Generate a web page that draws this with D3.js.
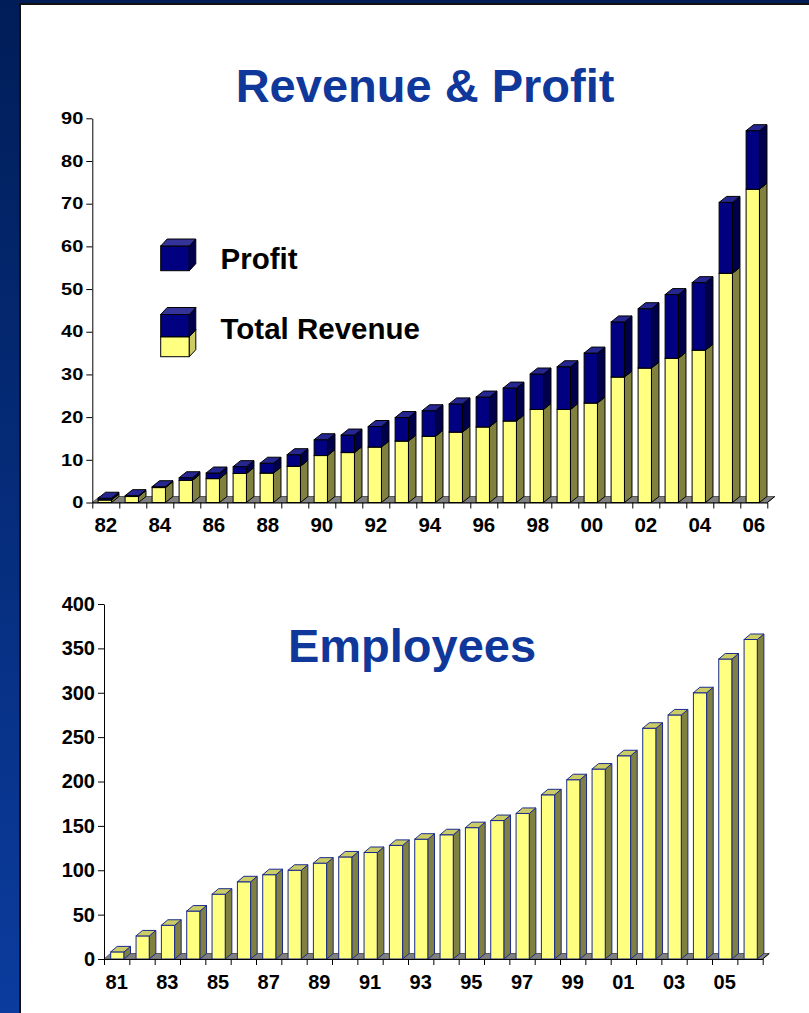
<!DOCTYPE html>
<html><head><meta charset="utf-8">
<script src="https://cdn.jsdelivr.net/npm/d3@7"></script>
<style>
body{margin:0;background:#fff}
svg{display:block}
text{font-family:Arial,"Liberation Sans",sans-serif;font-weight:bold}
</style>
</head><body>
<svg id="c" width="809" height="1013"></svg>
<script>
// ---------- DATA ----------
const revYears = ["82","83","84","85","86","87","88","89","90","91","92","93","94","95","96","97","98","99","00","01","02","03","04","05","06"];
const revBase   = [0.6,1.4,3.5,5.2,5.6,6.8,6.9,8.5,11.0,11.7,13.0,14.4,15.5,16.5,17.7,19.1,21.8,21.8,23.3,29.4,31.5,33.8,35.7,53.7,73.4];
const revProfit = [0.4,0.2,0.2,0.6,1.3,1.6,2.3,2.7,3.7,4.1,4.8,5.5,6.0,6.6,7.0,7.7,8.3,10.0,11.7,12.9,13.9,14.9,15.8,16.6,13.7];
const revTicks  = [0,10,20,30,40,50,60,70,80,90];
const revLabels = ["82","84","86","88","90","92","94","96","98","00","02","04","06"];
const legendNames = ["Profit","Total Revenue"];

const empYears  = ["81","82","83","84","85","86","87","88","89","90","91","92","93","94","95","96","97","98","99","00","01","02","03","04","05","06"];
const empValues = [8,26,38,54,73,87,95,100,108,115,120,128,135,140,148,156,164,185,202,214,229,260,275,300,338,360];
const empTicks  = [0,50,100,150,200,250,300,350,400];
const empLabels = ["81","83","85","87","89","91","93","95","97","99","01","03","05"];

const titles = ["Revenue & Profit","Employees"];

// ---------- STYLE ----------
const C = {
  yFront:"#ffff80", ySide:"#808040", yTop:"#cccc66",
  nFront:"#000080", nSide:"#00004a", nTop:"#262690",
  floor:"#808080", title:"#10389a"
};

const svg = d3.select("#c");
const defs = svg.append("defs");
const grad = defs.append("linearGradient").attr("id","bg").attr("x1",0).attr("y1",0).attr("x2",0).attr("y2",1);
grad.append("stop").attr("offset","0").attr("stop-color","#001d58");
grad.append("stop").attr("offset","1").attr("stop-color","#0b3c9e");
svg.append("rect").attr("width",809).attr("height",1013).attr("fill","url(#bg)");
svg.append("rect").attr("x",19).attr("y",3).attr("width",800).attr("height",1020).attr("fill","#111");
svg.append("rect").attr("x",21).attr("y",5).attr("width",800).attr("height",1020).attr("fill","#fff");

function box(g, x, w, yb, yt, dx, dy, front, side, top, stroke){
  g.append("rect").attr("x",x).attr("y",yt).attr("width",w).attr("height",Math.max(0,yb-yt))
    .attr("fill",front).attr("stroke",stroke).attr("stroke-width",1);
  g.append("polygon").attr("points",[[x+w,yb],[x+w+dx,yb-dy],[x+w+dx,yt-dy],[x+w,yt]].map(p=>p.join(",")).join(" "))
    .attr("fill",side).attr("stroke",stroke).attr("stroke-width",1).attr("stroke-linejoin","round");
  g.append("polygon").attr("points",[[x,yt],[x+dx,yt-dy],[x+w+dx,yt-dy],[x+w,yt]].map(p=>p.join(",")).join(" "))
    .attr("fill",top).attr("stroke",stroke).attr("stroke-width",1).attr("stroke-linejoin","round");
}

function floor(g, x0, x1, y0, dx, dy){
  g.append("polygon").attr("points",[[x0,y0],[x1,y0],[x1+dx,y0-dy],[x0+dx,y0-dy]].map(p=>p.join(",")).join(" "))
    .attr("fill",C.floor).attr("stroke","#5a5a5a").attr("stroke-width",1);
}

// ---------- TOP CHART ----------
(function(){
  const X0=92.3, X1=767.3, Y0=502.5, Y90=118.3, DX=7.5, DY=6;
  const g = svg.append("g");
  const x = d3.scaleBand().domain(revYears).range([X0,X1]).padding(0);
  const y = d3.scaleLinear().domain([0,90]).range([Y0,Y90]);
  const bw = x.bandwidth();
  floor(g, X0, X1, Y0, DX, DY);
  revYears.forEach((c,i)=>{
    const bx = x(c)+bw*0.215, w = bw*0.495;
    const b = revBase[i], t = revBase[i]+revProfit[i];
    box(g, bx, w, y(0), y(b), DX, DY, C.yFront, C.ySide, C.yTop, "#000");
    box(g, bx, w, y(b), y(t), DX, DY, C.nFront, C.nSide, C.nTop, "#000");
  });
  // y axis
  const ya = g.append("g").attr("transform",`translate(${X0},0)`)
    .call(d3.axisLeft(y).tickValues(revTicks).tickSize(6).tickSizeOuter(0));
  ya.select(".domain").attr("stroke","#000");
  ya.selectAll("text").attr("font-size",20).attr("fill","#000")
    .attr("font-family","Arial,'Liberation Sans',sans-serif").attr("font-weight","bold")
    .attr("transform","scale(1,0.82)");
  // x axis boundary ticks
  const xb = d3.scaleLinear().domain([0,revYears.length]).range([X0,X1]);
  const xa = g.append("g").attr("transform",`translate(0,${Y0})`)
    .call(d3.axisBottom(xb).tickValues(d3.range(revYears.length+1)).tickSize(6).tickSizeOuter(0).tickFormat(""));
  xa.select(".domain").attr("stroke","#000");
  // x labels
  const xl = g.append("g").attr("transform",`translate(0,${Y0})`)
    .call(d3.axisBottom(x).tickValues(revLabels).tickSize(0));
  xl.select(".domain").remove();
  xl.selectAll("text").attr("y",29).attr("dy",0).attr("font-size",20.5).attr("fill","#000")
    .attr("font-family","Arial,'Liberation Sans',sans-serif").attr("font-weight","bold");
  // right end diagonal
  g.append("line").attr("x1",X1).attr("y1",Y0).attr("x2",X1+DX).attr("y2",Y0-DY).attr("stroke","#000");
  // title
  svg.append("text").attr("x",425).attr("y",102).attr("text-anchor","middle")
    .attr("font-size",47).attr("fill",C.title).text(titles[0]);
  // legend
  const lg = svg.append("g");
  box(lg, 160.7, 28.6, 270.7, 246, 6.5, 7, C.nFront, C.nSide, "#333399", "#000");
  box(lg, 160.7, 28.6, 356.7, 336.7, 6.5, 7, C.yFront, "#cccc66", C.yTop, "#000");
  box(lg, 160.7, 28.6, 336.7, 314.5, 6.5, 7, C.nFront, C.nSide, "#333399", "#000");
  lg.append("text").attr("x",220.5).attr("y",269.3).attr("font-size",29.5).attr("fill","#000").text(legendNames[0]);
  lg.append("text").attr("x",220.5).attr("y",339).attr("font-size",29.5).attr("fill","#000").text(legendNames[1]);
})();

// ---------- BOTTOM CHART ----------
(function(){
  const X0=104, X1=762.7, Y0=959, Y400=604, DX=6.5, DY=5.5;
  const g = svg.append("g");
  const x = d3.scaleBand().domain(empYears).range([X0,X1]).padding(0);
  const y = d3.scaleLinear().domain([0,400]).range([Y0,Y400]);
  const bw = x.bandwidth();
  floor(g, X0, X1, Y0, DX, DY);
  empYears.forEach((c,i)=>{
    const bx = x(c)+bw*0.265, w = bw*0.525;
    box(g, bx, w, y(0), y(empValues[i]), DX, DY, C.yFront, C.ySide, C.yTop, "#1a2a8c");
  });
  const ya = g.append("g").attr("transform",`translate(${X0},0)`)
    .call(d3.axisLeft(y).tickValues(empTicks).tickSize(6).tickSizeOuter(0));
  ya.select(".domain").attr("stroke","#000");
  ya.selectAll("text").attr("font-size",20).attr("fill","#000")
    .attr("font-family","Arial,'Liberation Sans',sans-serif").attr("font-weight","bold");
  const xb = d3.scaleLinear().domain([0,empYears.length]).range([X0,X1]);
  const xa = g.append("g").attr("transform",`translate(0,${Y0})`)
    .call(d3.axisBottom(xb).tickValues(d3.range(empYears.length+1)).tickSize(6).tickSizeOuter(0).tickFormat(""));
  xa.select(".domain").attr("stroke","#000");
  const xl = g.append("g").attr("transform",`translate(0,${Y0})`)
    .call(d3.axisBottom(x).tickValues(empLabels).tickSize(0));
  xl.select(".domain").remove();
  xl.selectAll("text").attr("y",30).attr("dy",0).attr("font-size",20).attr("fill","#000")
    .attr("font-family","Arial,'Liberation Sans',sans-serif").attr("font-weight","bold");
  g.append("line").attr("x1",X1).attr("y1",Y0).attr("x2",X1+DX).attr("y2",Y0-DY).attr("stroke","#000");
  svg.append("text").attr("x",412).attr("y",662).attr("text-anchor","middle")
    .attr("font-size",47).attr("fill",C.title).text(titles[1]);
})();
</script>
</body></html>
